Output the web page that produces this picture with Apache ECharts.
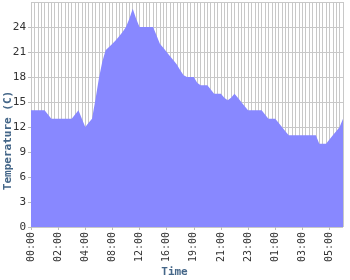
<!DOCTYPE html>
<html>
<head>
<meta charset="utf-8">
<script src="https://cdn.jsdelivr.net/npm/echarts@6/dist/echarts.min.js"></script>
<style>
  html, body { margin: 0; padding: 0; background: #fff; }
  #chart { width: 350px; height: 280px; }
</style>
</head>
<body>
<div id="chart"></div>
<script>
// tick labels, one every 8 readings
var timeLabels = ['00:00', '02:00', '04:00', '08:00', '12:00', '16:00',
  '19:00', '21:00', '23:00', '01:00', '03:00', '05:00']

// temperature readings (C)
var temperature = [
  14, 14, 14, 14, 14, 13.5, 13, 13, 13, 13, 13, 13, 13, 13.5, 14, 13, 12, 12.5, 13,
  15.3, 17.8, 19.8, 21.2, 21.6, 22, 22.4, 22.9, 23.4, 24, 25, 26.2, 25, 24,
  24, 24, 24, 24,
  23, 22, 21.5, 21, 20.5, 20, 19.5, 18.8, 18.2,
  18, 18, 18, 17.3, 17, 17, 17, 16.5, 16, 16, 16,
  15.5, 15.2, 15.5, 16, 15.5, 15, 14.5,
  14, 14, 14, 14, 14, 13.5, 13, 13, 13, 12.5, 12, 11.5,
  11, 11, 11, 11, 11, 11, 11, 11, 11,
  10, 10, 10, 10.5, 11, 11.5, 12, 13
]

var yTicks = { min: 0, max: 27, step: 3 }

var categories = temperature.map(function (v, i) {
  return i % 8 === 0 ? timeLabels[i / 8] : 'r' + i
})

var chart = echarts.init(document.getElementById('chart'))
var font = 'DejaVu Sans Mono'
var nameColor = '#446688'

chart.setOption({
  animation: false,
  grid: { left: 31, right: 7, top: 2, bottom: 53, outerBoundsMode: 'none' },
  xAxis: {
    type: 'category',
    data: categories,
    boundaryGap: false,
    name: 'Time',
    nameLocation: 'middle',
    nameGap: 40,
    nameMoveOverlap: false,
    nameTextStyle: {
      fontFamily: font, fontSize: 11, fontWeight: 'bold', color: nameColor,
      padding: [0, 25, 0, 0]
    },
    axisLine: { show: false },
    axisTick: { show: true, interval: 7, length: 3, lineStyle: { color: '#bbb' } },
    axisLabel: {
      interval: 7, rotate: 90, margin: 5,
      fontFamily: font, fontSize: 10, color: '#333'
    },
    splitLine: { show: true, interval: 0, lineStyle: { color: '#c8c8c8', width: 1 } }
  },
  yAxis: {
    type: 'value',
    min: yTicks.min,
    max: yTicks.max,
    interval: yTicks.step,
    name: 'Temperature (C)',
    nameLocation: 'middle',
    nameGap: 17,
    nameMoveOverlap: false,
    nameTextStyle: {
      fontFamily: font, fontSize: 11, fontWeight: 'bold', color: nameColor,
      padding: [0, 52, 0, 0]
    },
    axisLine: { show: false },
    axisTick: { show: true, length: 3, lineStyle: { color: '#bbb' } },
    axisLabel: {
      showMaxLabel: false, margin: 5,
      fontFamily: font, fontSize: 11, color: '#333'
    },
    splitLine: { show: true, lineStyle: { color: '#c8c8c8', width: 1 } }
  },
  series: [{
    type: 'line',
    data: temperature,
    showSymbol: false,
    lineStyle: { width: 0 },
    areaStyle: { color: '#8888ff', opacity: 1 }
  }]
})
</script>
</body>
</html>
